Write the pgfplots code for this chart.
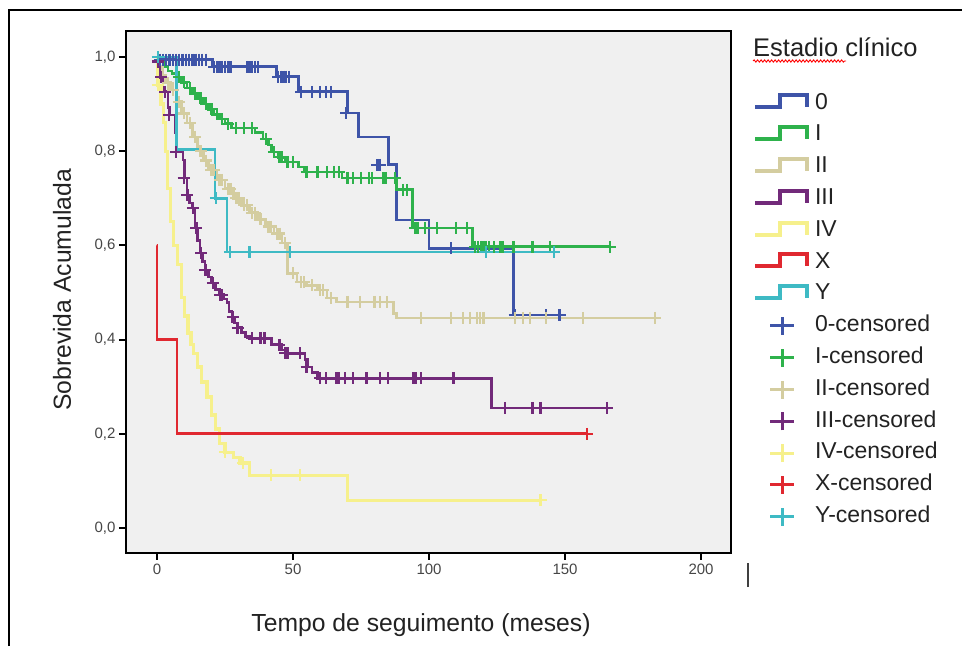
\documentclass[border=0pt]{standalone}
\usepackage{fontspec}
\setmainfont{Liberation Sans}
\usepackage{pgfplots}
\pgfplotsset{compat=1.18}
\usetikzlibrary{decorations.pathmorphing}

\definecolor{c0}{RGB}{62,84,168}
\definecolor{cI}{RGB}{46,178,76}
\definecolor{cII}{RGB}{212,205,160}
\definecolor{cIII}{RGB}{114,42,122}
\definecolor{cIV}{RGB}{246,240,140}
\definecolor{cX}{RGB}{224,40,48}
\definecolor{cY}{RGB}{62,186,196}
\definecolor{bggray}{RGB}{240,240,240}
\definecolor{ticktxt}{RGB}{70,70,70}
\definecolor{labtxt}{RGB}{34,34,34}

\pgfplotsset{
  kmstep/.style={const plot, color=#1, line width=2.7pt, mark=none,
    legend image code/.code={\draw[line width=4pt,color=#1] (0pt,-4pt) -- (25pt,-4pt) -- (25pt,8pt) -- (52pt,8pt) -- (52pt,-4pt);}},
  kmcens/.style={only marks, mark=+, mark size=6pt, color=#1, mark options={line width=2.3pt},
    legend image code/.code={\path[draw=none] (0pt,0pt) -- (52pt,0pt); \draw[line width=3pt,color=#1] (15pt,0pt) -- (39pt,0pt) (27pt,-9pt) -- (27pt,9pt);}},
}

\begin{document}
\begin{tikzpicture}[x=1pt,y=1pt]
\path[use as bounding box] (0,0) rectangle (962,646);
\draw[line width=1.5pt] (9,0) -- (9,636) -- (962,636);
\begin{axis}[
    at={(126pt,93pt)}, anchor=south west,
    scale only axis, width=605pt, height=522pt,
    xmin=-11.4, xmax=211, ymin=-0.053, ymax=1.055,
    axis background/.style={fill=bggray},
    axis line style={line width=2pt, black},
    tick pos=left, tick align=outside, major tick length=7pt,
    every tick/.style={black, line width=2pt},
    xtick={0,50,100,150,200},
    ytick={0,0.2,0.4,0.6,0.8,1.0},
    /pgf/number format/assume math mode=true,
    ticklabel style={font=\fontsize{15}{18}\selectfont, text=ticktxt},
    yticklabel style={/pgf/number format/.cd, fixed, fixed zerofill, precision=1, use comma},
    legend cell align=left,
    legend style={draw=none, fill=none, font=\fontsize{23}{23}\selectfont, text=labtxt,
      at={(1.0364,0.882)}, anchor=north west, row sep=10.3pt, inner sep=0pt, outer sep=0pt,
      nodes={inner sep=0pt, text height=16.5pt, text depth=5pt},
      /tikz/every odd column/.append style={column sep=6pt}},
  ]
% survival step curves
\addplot[kmstep=c0] coordinates {(0,1.0) (2,0.994) (20.5,0.979) (44,0.958) (52,0.926) (70,0.881) (74,0.83) (85,0.771) (88,0.654) (100,0.594) (131,0.452) (148,0.452)};
\addlegendentry{0}
\addplot[kmstep=cI] coordinates {(0,1.0) (1,0.99) (2.5,0.98) (4,0.97) (5.5,0.965) (7,0.957) (9,0.946) (11,0.934) (13,0.922) (15,0.912) (17,0.90) (19,0.889) (21,0.878) (23,0.868) (25,0.858) (27.5,0.849) (36,0.84) (39,0.826) (41,0.813) (42,0.798) (44.5,0.787) (47,0.777) (52,0.766) (54,0.756) (68,0.743) (88,0.718) (94,0.637) (116,0.597) (166.5,0.597)};
\addlegendentry{I}
\addplot[kmstep=cII] coordinates {(0,1.0) (1,0.98) (2,0.96) (3,0.945) (5,0.93) (7,0.905) (9,0.88) (11,0.86) (13,0.83) (15,0.80) (17,0.78) (19,0.76) (22,0.739) (25,0.72) (28,0.70) (31,0.685) (34,0.669) (37,0.655) (40,0.64) (43,0.625) (46,0.605) (48,0.541) (51.5,0.522) (55,0.515) (59,0.505) (62.5,0.488) (66,0.48) (87,0.456) (88,0.446) (183,0.446)};
\addlegendentry{II}
\addplot[kmstep=cIII] coordinates {(0,1.0) (0.5,0.99) (1,0.957) (2.2,0.926) (4,0.892) (4.8,0.877) (6.6,0.839) (7.4,0.798) (9.6,0.781) (10,0.743) (11,0.707) (12,0.69) (13,0.679) (14,0.637) (15,0.61) (15.8,0.584) (16.7,0.565) (17.6,0.548) (18.8,0.533) (20,0.52) (21.5,0.507) (23,0.495) (24.5,0.486) (25.7,0.478) (26.5,0.46) (27.6,0.448) (28.5,0.435) (29.4,0.425) (31,0.415) (32.4,0.406) (34,0.403) (42,0.389) (46,0.378) (47,0.371) (54.4,0.357) (55.5,0.342) (57,0.33) (59,0.318) (123,0.255) (165.5,0.255)};
\addlegendentry{III}
\addplot[kmstep=cIV, line width=3.2pt] coordinates {(0,1.0) (0.3,0.94) (1.5,0.90) (2.5,0.86) (3.2,0.80) (4,0.72) (5,0.65) (6,0.60) (7.4,0.56) (9,0.49) (10,0.45) (11.4,0.414) (12.5,0.39) (13.5,0.37) (15,0.342) (16.5,0.31) (18.4,0.278) (20,0.24) (21.5,0.21) (23,0.18) (25,0.161) (28,0.15) (30.5,0.138) (34,0.112) (70,0.059) (141,0.059)};
\addlegendentry{IV}
\addplot[kmstep=cX] coordinates {(0,0.6) (0.01,0.4) (7.4,0.2) (158,0.2)};
\addlegendentry{X}
\addplot[kmstep=cY] coordinates {(0,1.0) (7.2,0.803) (21.3,0.70) (25.7,0.586) (147.5,0.586)};
\addlegendentry{Y}
% censored observations
\addplot[kmcens=c0] coordinates {(1,0.994) (2.2,0.994) (3.4,0.994) (4.6,0.994) (5.8,0.994) (7,0.994) (8.2,0.994) (9.4,0.994) (10.6,0.994) (11.8,0.994) (13,0.994) (14.2,0.994) (15.4,0.994) (16.6,0.994) (18,0.994) (21,0.979) (22,0.979) (23,0.979) (24,0.979) (25,0.979) (26,0.979) (27,0.979) (33,0.979) (34,0.979) (35,0.979) (36,0.979) (37,0.979) (44.5,0.958) (45.5,0.958) (46.5,0.958) (47.5,0.958) (48.5,0.958) (53,0.926) (57,0.926) (60,0.926) (62,0.926) (64,0.926) (69.5,0.881) (81,0.771) (82,0.771) (108,0.594) (131.5,0.452) (143,0.452) (148,0.452)};
\addlegendentry{0-censored}
\addplot[kmcens=cI] coordinates {(8,0.957) (10,0.946) (12,0.934) (14,0.922) (16,0.912) (18,0.90) (20,0.889) (22,0.878) (24,0.868) (26,0.858) (29,0.849) (32,0.849) (35,0.849) (40,0.826) (43,0.798) (45,0.787) (46,0.787) (48,0.777) (50,0.777) (55,0.756) (59,0.756) (62.5,0.756) (65,0.756) (67,0.756) (70,0.743) (72,0.743) (75,0.743) (78,0.743) (79,0.743) (83,0.743) (84,0.743) (87.5,0.743) (90.5,0.718) (92,0.718) (95,0.637) (96,0.637) (98.5,0.637) (103,0.637) (110,0.637) (114,0.637) (117,0.597) (118,0.597) (119,0.597) (120,0.597) (121,0.597) (122,0.597) (124,0.597) (126,0.597) (127,0.597) (131,0.597) (138,0.597) (144.5,0.597) (166.5,0.597)};
\addlegendentry{I-censored}
\addplot[kmcens=cII] coordinates {(4,0.945) (6,0.93) (8,0.905) (10,0.88) (12,0.86) (14,0.83) (16,0.80) (18,0.78) (20,0.76) (21,0.76) (23,0.739) (24,0.739) (26,0.72) (27,0.72) (29,0.70) (30,0.70) (32,0.685) (33,0.685) (35,0.669) (36,0.669) (38,0.655) (41,0.64) (42,0.64) (44,0.625) (45,0.625) (47,0.605) (50,0.541) (53,0.522) (54,0.522) (57,0.515) (60,0.505) (61,0.505) (64,0.488) (70,0.48) (74.6,0.48) (80,0.48) (82,0.48) (84.5,0.48) (97,0.446) (108,0.446) (112.5,0.446) (115,0.446) (117.6,0.446) (118.8,0.446) (120,0.446) (131.6,0.446) (134.6,0.446) (137,0.446) (143,0.446) (156.6,0.446) (183,0.446)};
\addlegendentry{II-censored}
\addplot[kmcens=cIII] coordinates {(0.4,0.99) (1.5,0.957) (3,0.926) (4.4,0.877) (7,0.798) (9.8,0.743) (11.2,0.707) (13.2,0.679) (14.5,0.637) (16.2,0.584) (17.8,0.548) (20.5,0.52) (23.2,0.495) (24,0.495) (27.8,0.448) (29.6,0.425) (35,0.403) (38,0.403) (39.5,0.403) (45,0.389) (47.2,0.371) (48,0.371) (52.5,0.371) (55,0.342) (60,0.318) (62,0.318) (66,0.318) (67,0.318) (69,0.318) (72,0.318) (77,0.318) (82,0.318) (85,0.318) (94,0.318) (95,0.318) (97,0.318) (109,0.318) (128,0.255) (138,0.255) (141,0.255) (165.5,0.255)};
\addlegendentry{III-censored}
\addplot[kmcens=cIV] coordinates {(0.5,0.94) (25,0.161) (31.6,0.138) (42,0.112) (52.6,0.112) (141,0.059)};
\addlegendentry{IV-censored}
\addplot[kmcens=cX] coordinates {(158,0.2)};
\addlegendentry{X-censored}
\addplot[kmcens=cY] coordinates {(0.3,1.0) (21.6,0.70) (26.8,0.586) (34,0.586) (49,0.586) (121,0.586) (146,0.586)};
\addlegendentry{Y-censored}
\end{axis}
% titles and labels
\node[anchor=base west, font=\fontsize{25.5}{26}\selectfont, text=labtxt, inner sep=0pt] at (753,589) {Estadio clínico};
\draw[red, line width=0.9pt, decorate, decoration={snake, amplitude=1.1pt, segment length=3.5pt}] (753,585) -- (846,585);
\node[font=\fontsize{24.7}{26}\selectfont, text=labtxt, rotate=90] at (62,356) {Sobrevida Acumulada};
\node[font=\fontsize{24.7}{26}\selectfont, text=labtxt] at (421,21) {Tempo de seguimento (meses)};
\draw[line width=1.2pt, black!75] (748,59) -- (748,83);
\end{tikzpicture}
\end{document}
